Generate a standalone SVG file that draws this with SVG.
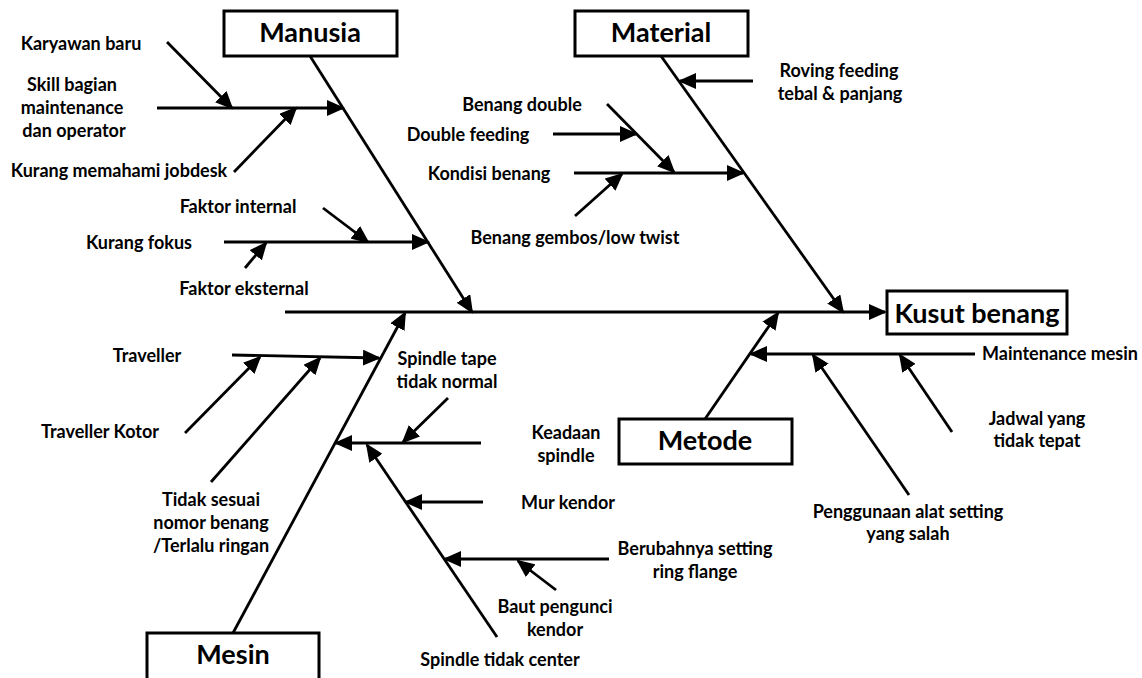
<svg xmlns="http://www.w3.org/2000/svg" width="1142" height="678" viewBox="0 0 1142 678">
<style>
.t{font-family:Lato,"Liberation Sans",sans-serif;font-weight:bold;font-size:18px;fill:#000;text-anchor:middle}
.h{font-family:Lato,"Liberation Sans",sans-serif;font-weight:bold;font-size:27px;fill:#000;text-anchor:middle}
.b{fill:#fff;stroke:#000;stroke-width:3}
.a{stroke:#000;stroke-width:2.8;fill:none;marker-end:url(#ah)}
</style>
<defs>
<marker id="ah" viewBox="0 0 18 16" markerWidth="18" markerHeight="16" refX="16" refY="8" orient="auto" markerUnits="userSpaceOnUse">
<path d="M0,0 L18,8 L0,16 z" fill="#000"/>
</marker>
</defs>
<rect width="1142" height="678" fill="#fff"/>
<g id="connectors">
<line class="a" x1="285" y1="312" x2="885" y2="312"/>
<line class="a" x1="310" y1="56" x2="472" y2="312"/>
<line class="a" x1="661" y1="56" x2="843" y2="312"/>
<line class="a" x1="705" y1="419" x2="778" y2="313"/>
<line class="a" x1="233" y1="633" x2="405" y2="313"/>
<line class="a" x1="157" y1="108" x2="343" y2="108"/>
<line class="a" x1="167" y1="42" x2="232" y2="108"/>
<line class="a" x1="234" y1="172" x2="296" y2="108"/>
<line class="a" x1="224" y1="242" x2="428" y2="242"/>
<line class="a" x1="323" y1="208" x2="368" y2="242"/>
<line class="a" x1="245" y1="268" x2="266" y2="243"/>
<line class="a" x1="753" y1="81" x2="680" y2="81"/>
<line class="a" x1="574" y1="173" x2="743" y2="173"/>
<line class="a" x1="607" y1="104" x2="674" y2="172"/>
<line class="a" x1="553" y1="134" x2="636" y2="134"/>
<line class="a" x1="575" y1="216" x2="622" y2="174"/>
<line class="a" x1="975" y1="354" x2="751" y2="354"/>
<line class="a" x1="952" y1="432" x2="900" y2="355"/>
<line class="a" x1="909" y1="495" x2="813" y2="355"/>
<line class="a" x1="232" y1="355" x2="379" y2="358"/>
<line class="a" x1="185" y1="433" x2="260" y2="357"/>
<line class="a" x1="211" y1="482" x2="320" y2="358"/>
<line class="a" x1="481" y1="443" x2="336" y2="443"/>
<line class="a" x1="448" y1="398" x2="403" y2="442"/>
<line class="a" x1="497" y1="637" x2="367" y2="445"/>
<line class="a" x1="483" y1="502" x2="406" y2="502"/>
<line class="a" x1="609" y1="559" x2="445" y2="559"/>
<line class="a" x1="556" y1="590" x2="518" y2="561"/>
</g>
<g id="manusia"><rect class="b" x="224" y="11" width="173" height="45"/><text class="h" x="310" y="42">Manusia</text></g>
<g id="material"><rect class="b" x="575" y="11" width="173" height="45"/><text class="h" x="661" y="42">Material</text></g>
<g id="kusut-benang"><rect class="b" x="887" y="291" width="180" height="43"/><text class="h" x="977" y="323">Kusut benang</text></g>
<g id="metode"><rect class="b" x="619" y="419" width="173" height="45"/><text class="h" x="705" y="450">Metode</text></g>
<g id="mesin"><rect class="b" x="147" y="633" width="172" height="50"/><text class="h" x="233" y="664">Mesin</text></g>
<g id="labels">
<text class="t" x="81" y="50">Karyawan baru</text>
<text class="t" x="72" y="91">Skill bagian</text>
<text class="t" x="72" y="114">maintenance</text>
<text class="t" x="74" y="137">dan operator</text>
<text class="t" x="119" y="177">Kurang memahami jobdesk</text>
<text class="t" x="238" y="213">Faktor internal</text>
<text class="t" x="139" y="249">Kurang fokus</text>
<text class="t" x="244" y="295">Faktor eksternal</text>
<text class="t" x="839" y="77">Roving feeding</text>
<text class="t" x="840" y="100">tebal &amp; panjang</text>
<text class="t" x="522" y="111">Benang double</text>
<text class="t" x="468" y="141">Double feeding</text>
<text class="t" x="489" y="180">Kondisi benang</text>
<text class="t" x="575" y="244">Benang gembos/low twist</text>
<text class="t" x="1060" y="360">Maintenance mesin</text>
<text class="t" x="1037" y="425">Jadwal yang</text>
<text class="t" x="1037" y="447">tidak tepat</text>
<text class="t" x="908" y="518">Penggunaan alat setting</text>
<text class="t" x="908" y="540">yang salah</text>
<text class="t" x="147" y="362">Traveller</text>
<text class="t" x="100" y="438">Traveller Kotor</text>
<text class="t" x="211" y="506">Tidak sesuai</text>
<text class="t" x="211" y="529">nomor benang</text>
<text class="t" x="211" y="552">/Terlalu ringan</text>
<text class="t" x="447" y="365">Spindle tape</text>
<text class="t" x="447" y="388">tidak normal</text>
<text class="t" x="566" y="439">Keadaan</text>
<text class="t" x="566" y="462">spindle</text>
<text class="t" x="568" y="509">Mur kendor</text>
<text class="t" x="695" y="555">Berubahnya setting</text>
<text class="t" x="695" y="578">ring flange</text>
<text class="t" x="555" y="613">Baut pengunci</text>
<text class="t" x="555" y="636">kendor</text>
<text class="t" x="500" y="666">Spindle tidak center</text>
</g>
</svg>
